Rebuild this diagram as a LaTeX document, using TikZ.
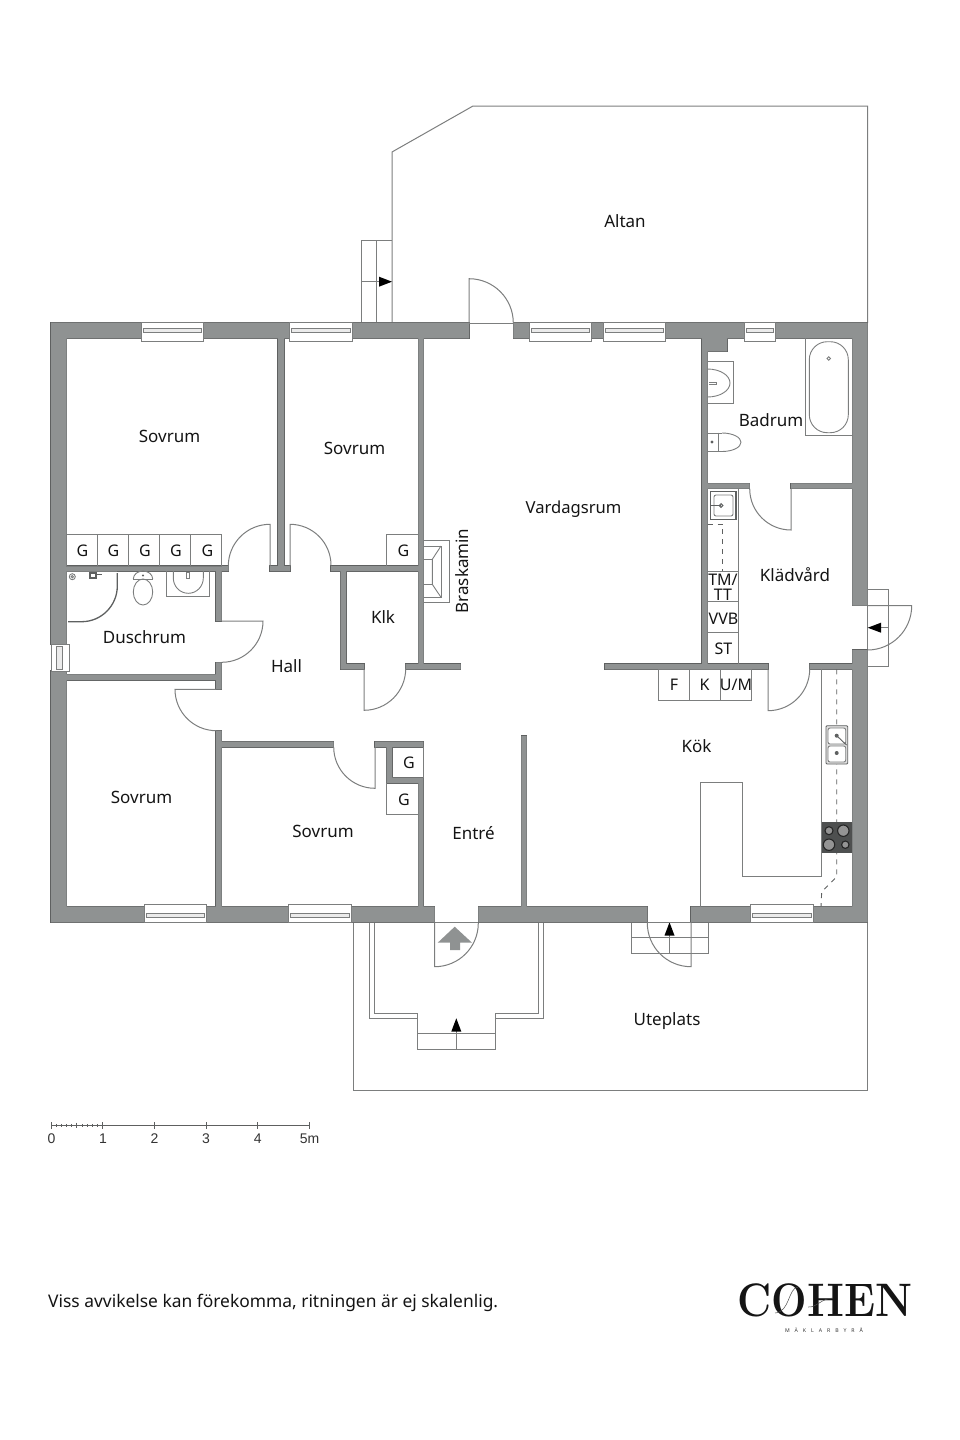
\documentclass[tikz,border=0pt]{standalone}
\usepackage{fontspec}
\usetikzlibrary{calc}
\newfontfamily\planfont{Noto Sans}
\newfontfamily\rulerfont{Liberation Sans}
\newfontfamily\brandfont{Latin Modern Roman}
\newfontfamily\brandsmallfont[LetterSpace=95]{Noto Sans}
\definecolor{wallgray}{HTML}{8F9292}
\definecolor{walledge}{HTML}{5E6060}
\definecolor{thinline}{HTML}{7C7E7E}
\definecolor{hobgray}{HTML}{4E5050}
\tikzstyle{roomlabel} = [font=\planfont\fontsize{17}{19}\selectfont, inner sep=0pt, text=black!92]
\tikzstyle{smalllabel} = [font=\planfont\fontsize{16}{15}\selectfont, inner sep=0pt, text=black!92, align=center]
\tikzstyle{rulerlabel} = [font=\rulerfont\fontsize{14}{15}\selectfont, inner sep=0pt, text=black!80]
\tikzstyle{fitting} = [draw=thinline, line width=0.9pt]
\tikzstyle{fittingdark} = [draw=walledge, line width=0.8pt]
\tikzstyle{doorswing} = [draw=thinline, line width=1pt]
\tikzstyle{outline} = [draw=thinline, line width=1pt]
\tikzstyle{windowframe} = [draw=thinline, fill=white, line width=0.8pt]
\tikzstyle{windowpane} = [draw=thinline, fill=black!8, line width=0.7pt]
\tikzstyle{walkarrow} = [fill=black]
\tikzstyle{counterline} = [draw=walledge, line width=0.9pt, dash pattern=on 5pt off 5pt]
\newcommand{\wallpath}{
    (51,322.7) rectangle (141,338.3)
    (203.7,322.7) rectangle (289.7,338.3)
    (352.7,322.7) rectangle (469,338.3)
    (513.3,322.7) rectangle (529.3,338.3)
    (591.7,322.7) rectangle (603.3,338.3)
    (665.7,322.7) rectangle (744.3,338.3)
    (775,322.7) rectangle (867.7,338.3)
    (51,322.7) rectangle (66.7,644.3)
    (51,671) rectangle (66.7,922.3)
    (852.3,322.7) rectangle (867.7,605.7)
    (852.3,650) rectangle (867.7,922.3)
    (51,906.7) rectangle (144.3,922.3)
    (206.3,906.7) rectangle (288.3,922.3)
    (351,906.7) rectangle (434.7,922.3)
    (478.3,906.7) rectangle (647.3,922.3)
    (691,906.7) rectangle (750.3,922.3)
    (813,906.7) rectangle (867.7,922.3)
    (278,338) rectangle (284,566)
    (66.7,566) rectangle (228.7,571)
    (270,566) rectangle (290,571)
    (331,566) rectangle (423.3,571)
    (418.3,338) rectangle (423.5,664)
    (340.7,571) rectangle (346,669.3)
    (340.7,664) rectangle (364,669.3)
    (405.7,664) rectangle (460.7,669.3)
    (216,571) rectangle (221.7,621)
    (216,662.3) rectangle (221.7,689.3)
    (216,730.7) rectangle (221.7,907)
    (66.7,674.3) rectangle (216,680)
    (221.7,741.7) rectangle (333.7,747)
    (375,741.7) rectangle (423.3,747)
    (386.7,747) rectangle (392,783)
    (386.7,777.7) rectangle (423.3,783)
    (418.3,783) rectangle (423.3,907)
    (521.3,736) rectangle (526.7,907)
    (605,664) rectangle (768,669.3)
    (809.7,664) rectangle (852.3,669.3)
    (702,338) rectangle (707.5,664)
    (702,338) rectangle (727,351.3)
    (707.5,483.3) rectangle (749.7,488.7)
    (791,483.3) rectangle (852.3,488.7)
}
\begin{document}
\begin{tikzpicture}[x=1pt, y=-1pt]
\useasboundingbox (0,0) rectangle (960,1440);

% terraces and steps
\draw[outline] (392,323) -- (392,152) -- (473,106) -- (867.7,106) -- (867.7,323);
\draw[outline] (353,922) -- (353,1090) -- (867.7,1090) -- (867.7,922);
\draw[outline] (361,323) -- (361,240) -- (392,240);
\draw[outline] (376.5,240) -- (376.5,323);
\draw[outline] (361,281.7) -- (380,281.7);
\fill[walkarrow] (392,281.7) -- (379,276.7) -- (379,286.7) -- cycle;
\draw[outline] (369.3,922) -- (369.3,1018.3) -- (417.7,1018.3);
\draw[outline] (374.7,922) -- (374.7,1013) -- (417.7,1013);
\draw[outline] (543.7,922) -- (543.7,1018.3) -- (495.3,1018.3);
\draw[outline] (538.7,922) -- (538.7,1013) -- (495.3,1013);
\draw[outline] (417.7,1013) -- (417.7,1049) -- (495.3,1049) -- (495.3,1013);
\draw[outline] (417.7,1033.7) -- (495.3,1033.7);
\draw[outline] (456.3,1030) -- (456.3,1049);
\fill[walkarrow] (456.3,1018.3) -- (451.3,1031.5) -- (461.3,1031.5) -- cycle;
\draw[outline] (631,922.3) rectangle (708.3,953.7);
\draw[outline] (631,937.7) -- (708.3,937.7);
\draw[outline] (669.5,934) -- (669.5,953.7);
\fill[walkarrow] (669.5,922.3) -- (664.5,935.5) -- (674.5,935.5) -- cycle;
\draw[outline] (867.7,589) rectangle (888.3,666.7);
\draw[outline] (879,627.7) -- (888.3,627.7);
\fill[walkarrow] (867.7,627.7) -- (881,622.7) -- (881,632.7) -- cycle;
\fill[wallgray] (454.7,926.7) -- (472,942.7) -- (460,942.7) -- (460,950) -- (450,950) -- (450,942.7) -- (437.7,942.7) -- cycle;

% walls
\draw[walledge, line width=1.1pt] \wallpath;
\fill[wallgray] \wallpath;

% windows
\draw[windowframe] (141,322.7) rectangle (203.7,341);
\draw[windowpane] (143,328.3) rectangle (201.7,332.7);
\draw[windowframe] (289.7,322.7) rectangle (352.7,341);
\draw[windowpane] (291.7,328.3) rectangle (350.7,332.7);
\draw[windowframe] (529.3,322.7) rectangle (591.7,341);
\draw[windowpane] (531.3,328.3) rectangle (589.7,332.7);
\draw[windowframe] (603.3,322.7) rectangle (665.7,341);
\draw[windowpane] (605.3,328.3) rectangle (663.7,332.7);
\draw[windowframe] (744.3,322.7) rectangle (775,341);
\draw[windowpane] (746.3,328.3) rectangle (773,332.7);
\draw[windowframe] (144.3,904) rectangle (206.3,922.3);
\draw[windowpane] (146.3,913.3) rectangle (204.3,917.3);
\draw[windowframe] (288.3,904) rectangle (351,922.3);
\draw[windowpane] (290.3,913.3) rectangle (349,917.3);
\draw[windowframe] (750.3,904) rectangle (813,922.3);
\draw[windowpane] (752.3,913.3) rectangle (811,917.3);
\draw[windowframe] (51,644.3) rectangle (69.3,671);
\draw[windowpane] (56.7,646.3) rectangle (62,669);

% doors
\draw[doorswing] (270,566) -- (270,524.3) arc (-90:-180:41.7);
\draw[doorswing] (290,566) -- (290,524.3) arc (-90:0:41);
\draw[doorswing] (221.7,621) -- (263,621) arc (0:90:41.3);
\draw[doorswing] (216,689.3) -- (175,689.3) arc (180:90:41.4);
\draw[doorswing] (364,669) -- (364,710.3) arc (90:0:41.7);
\draw[doorswing] (375,747) -- (375,788.3) arc (90:180:41.3);
\draw[doorswing] (469,323) -- (469,278.7) arc (-90:0:44.3);
\draw[doorswing] (434.7,922.3) -- (434.7,966.7) arc (90:0:43.6);
\draw[doorswing] (691,922.3) -- (691,966.7) arc (90:180:43.7);
\draw[doorswing] (867.7,605.7) -- (911.7,605.7) arc (0:90:44.3);
\draw[doorswing] (768,669.3) -- (768,710.7) arc (90:0:41.7);
\draw[doorswing] (791,488.7) -- (791,530) arc (90:180:41.3);
\draw[doorswing] (469,323) -- (513.3,323);
\draw[doorswing] (434.7,922.3) -- (478.3,922.3);
\draw[doorswing] (647.3,922.3) -- (691,922.3);

% closets
\draw[fitting] (66.7,534.3) rectangle (221.7,566);
\draw[fitting] (97.7,534.3) -- (97.7,566);
\draw[fitting] (128.7,534.3) -- (128.7,566);
\draw[fitting] (159.3,534.3) -- (159.3,566);
\draw[fitting] (190.7,534.3) -- (190.7,566);
\draw[fitting] (386.7,566) -- (386.7,534.3) -- (418.3,534.3);
\draw[fitting] (386.7,783) -- (386.7,814) -- (418.3,814);
\draw[fitting] (423.3,747) -- (423.3,777.7);
\draw[fitting] (658.3,669.3) rectangle (751.7,700.3);
\draw[fitting] (689.3,669.3) -- (689.3,700.3);
\draw[fitting] (720.3,669.3) -- (720.3,700.3);
\draw[fitting] (738.7,488.7) -- (738.7,664);
\draw[fitting] (707.5,571) -- (738.7,571);
\draw[fitting] (707.5,601.7) -- (738.7,601.7);
\draw[fitting] (707.5,632.7) -- (738.7,632.7);
\draw[counterline] (707.5,524.3) -- (722.7,524.3) -- (722.7,571);

% laundry sink
\draw[fittingdark, line width=1.2pt] (710.7,491.7) rectangle (736,519.3);
\draw[fitting, rounded corners=2pt] (714,495) rectangle (733,516);
\draw[walledge, line width=1.2pt] (711,505.5) -- (721,505.5);
\draw[walledge, line width=1pt] (721,505.5) circle (1.8);

% bath
\draw[fitting] (805.3,338.3) -- (805.3,435.3) -- (852.3,435.3);
\draw[fitting, rounded corners=18pt] (809.3,341.7) rectangle (848.3,432.7);
\draw[fitting] (828.7,358.5) circle (1.8);
\draw[fitting] (707.5,361.7) -- (733.7,361.7) -- (733.7,403.7) -- (707.5,403.7);
\draw[fitting] (707.5,369) arc (-90:90:22.5 and 14);
\draw[fitting] (709,382) -- (716,382) -- (716,384.5) -- (709,384.5);
\draw[fitting] (718,432.7) -- (718,451.7);
\draw[fitting] (707.5,433) -- (722,433);
\draw[fitting] (707.5,451.5) -- (722,451.5);
\draw[fitting] (722,433) arc (-90:90:19 and 9.25);
\draw[walledge, line width=1pt] (712,442) circle (1);

% shower room
\draw[fitting] (67.3,571.7) -- (117.3,571.7);
\draw[walledge, line width=1.3pt] (117.3,573) -- (117.3,586) arc (0:90:35.7) -- (68,621.7);
\draw[fitting] (72.3,576.7) circle (3);
\draw[fitting] (72.3,576.7) circle (1.2);
\draw[walledge, line width=1.2pt] (90,573) rectangle (96,578);
\draw[walledge, line width=1pt] (96,574.5) -- (102,574.5);
\draw[fitting] (133.3,579) arc (180:360:9.7 and 8);
\draw[fitting] (133.3,579) -- (152.7,579);
\draw[fitting] (143,592) ellipse (9.7 and 13);
\fill[walledge] (143,575.5) circle (1.2);
\draw[fitting] (166.7,571) -- (166.7,596.7) -- (209,596.7) -- (209,571);
\draw[fitting] (173.3,571) -- (173.3,578) arc (180:0:15 and 15.3) -- (203.3,571);
\draw[fitting] (186.5,572) rectangle (189.5,578);

% fireplace
\draw[fitting] (424,540.7) -- (449.3,540.7) -- (449.3,602.7) -- (424,602.7);
\draw[fitting] (424,546) -- (441,546) -- (441,597.3) -- (424,597.3);
\draw[fitting] (441,546) -- (432.3,559.3) -- (432.3,584.3) -- (441,597.3);
\draw[fitting] (424,559.3) -- (432.3,559.3);
\draw[fitting] (424,584.3) -- (432.3,584.3);

% kitchen
\draw[fitting] (821.5,669.3) -- (821.5,876) -- (742,876) -- (742,782.7) -- (700.7,782.7) -- (700.7,906.7);
\draw[counterline] (836.7,669.3) -- (836.7,876.7) -- (821.7,891.7) -- (821,906.7);
\draw[fittingdark, fill=black!12, rounded corners=1pt] (826,725.7) rectangle (847.7,764);
\draw[fitting, fill=white, rounded corners=2pt] (828,728) rectangle (845.7,744);
\draw[fitting, fill=white, rounded corners=2pt] (828,746) rectangle (845.7,762);
\fill[walledge] (836.7,735.7) circle (2);
\fill[walledge] (836.7,753) circle (2);
\draw[walledge, line width=0.9pt] (836.7,735.7) -- (846.5,745);
\fill[hobgray] (821.7,821.7) rectangle (852.3,852.7);
\draw[black!85, fill=black!42, line width=1.1pt] (829,830.7) circle (4);
\draw[black!85, fill=black!42, line width=1.1pt] (843.3,830.7) circle (5.7);
\draw[black!85, fill=black!42, line width=1.1pt] (829,844.7) circle (5.7);
\draw[black!85, fill=black!42, line width=1.1pt] (845.3,844.7) circle (3.7);

% room names
\node[roomlabel] (altan) at (625,221.5) {Altan};
\node[roomlabel] (sovrum_nw) at (169.5,436) {Sovrum};
\node[roomlabel] (sovrum_n) at (354.5,448) {Sovrum};
\node[roomlabel] (sovrum_sw) at (141.5,797) {Sovrum};
\node[roomlabel] (sovrum_s) at (323,831) {Sovrum};
\node[roomlabel] (duschrum) at (144.5,637) {Duschrum};
\node[roomlabel] (hall) at (286.5,666) {Hall};
\node[roomlabel] (klk) at (383,617) {Klk};
\node[roomlabel, font=\planfont\fontsize{16.6}{19}\selectfont] (vardagsrum) at (573.5,509) {Vardagsrum};
\node[roomlabel] (badrum) at (771,420) {Badrum};
\node[roomlabel] (kladvard) at (795,575) {Klädvård};
\node[roomlabel] (kok) at (696.5,746) {Kök};
\node[roomlabel] (entre) at (473.5,833) {Entré};
\node[roomlabel] (uteplats) at (667,1021) {Uteplats};
\node[roomlabel, rotate=90] (braskamin) at (462.5,571) {Braskamin};

% closet names
\node[smalllabel] (g_one) at (82.5,550.5) {G};
\node[smalllabel] (g_two) at (113.5,550.5) {G};
\node[smalllabel] (g_three) at (145,550.5) {G};
\node[smalllabel] (g_four) at (176,550.5) {G};
\node[smalllabel] (g_five) at (207.5,550.5) {G};
\node[smalllabel] (g_six) at (403.5,550.5) {G};
\node[smalllabel] (g_seven) at (409,762.5) {G};
\node[smalllabel] (g_eight) at (404,799.5) {G};
\node[smalllabel] (tm_tt) at (723,587) {TM/\\TT};
\node[smalllabel] (vvb) at (723.5,619) {VVB};
\node[smalllabel] (st) at (723.5,649) {ST};
\node[smalllabel] (f_box) at (674,685) {F};
\node[smalllabel] (k_box) at (704.5,685) {K};
\node[smalllabel] (um_box) at (736,685) {U/M};

% scale bar
\coordinate (ruler_start) at (51,1125.3);
\coordinate (ruler_end) at (309.3,1125.3);
\draw[walledge, line width=0.8pt] (ruler_start) -- (ruler_end);
\foreach \tickx in {51,102.7,154.3,206,257.7,309.3}
    \draw[walledge, line width=0.8pt] (\tickx,1122) -- (\tickx,1128.5);
\draw[walledge, line width=0.7pt] (76.8,1122.5) -- (76.8,1128);
\foreach \tickx in {56.2,61.3,66.5,71.7,82,87.2,92.3,97.5}
    \draw[walledge, line width=0.5pt] (\tickx,1123.8) -- (\tickx,1126.8);
\node[rulerlabel] (zero) at (51.5,1138.5) {0};
\node[rulerlabel] (one) at (103,1138.5) {1};
\node[rulerlabel] (two) at (154.5,1138.5) {2};
\node[rulerlabel] (three) at (206,1138.5) {3};
\node[rulerlabel] (four) at (257.7,1138.5) {4};
\node[rulerlabel] (five) at (309.5,1138.5) {5m};

% footer
\node[roomlabel, anchor=west, font=\planfont\fontsize{17.4}{19}\selectfont] (disclaimer) at (48,1302.5) {Viss avvikelse kan förekomma, ritningen är ej skalenlig.};
\node[inner sep=0pt, font=\brandfont\bfseries\fontsize{47}{50}\selectfont, text=black!92, xscale=0.895] (brand) at (825,1300.5) {COHEN};
\draw[black!70, line width=0.5pt] (775,1313) .. controls (790,1312) and (788,1288) .. (798,1287);
\draw[black!70, line width=0.5pt] (808,1307) .. controls (816,1308) and (822,1298) .. (833,1298);
\node[inner sep=0pt, font=\brandsmallfont\fontsize{5.2}{6}\selectfont, text=black!80] (brand_sub) at (824,1330) {MÄKLARBYRÅ};
\end{tikzpicture}
\end{document}
